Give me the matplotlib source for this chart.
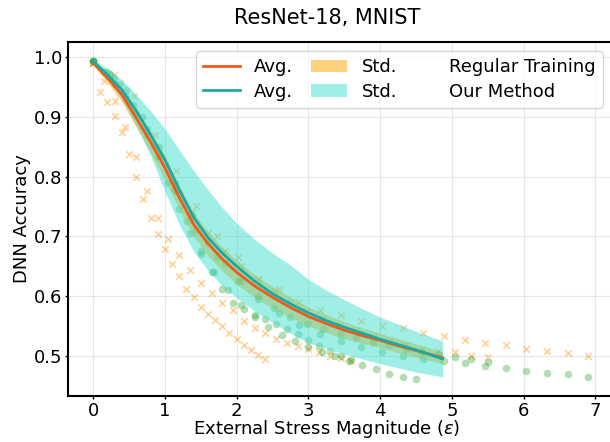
import numpy as np
from matplotlib import pyplot as plt
from matplotlib.lines import Line2D
from matplotlib.patches import Patch

# averaged curves
avg_eps = [0, 0.2, 0.4, 0.6, 0.8, 1.0, 1.2, 1.4, 1.6, 1.8, 2.0, 2.25, 2.5, 2.75,
           3.0, 3.25, 3.5, 3.75, 4.0, 4.25, 4.5, 4.87]
reg_avg = [0.99, 0.965, 0.937, 0.898, 0.858, 0.815, 0.765, 0.72, 0.688, 0.662, 0.64, 0.617,
           0.598, 0.581, 0.566, 0.554, 0.543, 0.534, 0.526, 0.517, 0.509, 0.497]
reg_std = [0.004, 0.008, 0.012, 0.015, 0.018, 0.02, 0.02, 0.02, 0.02, 0.02, 0.02, 0.019,
           0.018, 0.017, 0.016, 0.015, 0.014, 0.013, 0.012, 0.012, 0.011, 0.01]
our_avg = [0.993, 0.97, 0.945, 0.91, 0.87, 0.828, 0.778, 0.732, 0.698, 0.672, 0.65, 0.625,
           0.604, 0.587, 0.572, 0.559, 0.548, 0.538, 0.528, 0.519, 0.51, 0.495]
our_upper = [0.997, 0.98, 0.962, 0.937, 0.91, 0.88, 0.845, 0.81, 0.778, 0.748, 0.722, 0.695,
             0.672, 0.652, 0.628, 0.61, 0.594, 0.579, 0.565, 0.553, 0.541, 0.525]
our_lower = [0.99, 0.962, 0.93, 0.885, 0.835, 0.775, 0.72, 0.675, 0.643, 0.617, 0.597, 0.575,
             0.556, 0.538, 0.522, 0.512, 0.503, 0.495, 0.487, 0.48, 0.473, 0.465]

# individual runs, regular training (x markers); each run has 25 evenly spaced eps
reg_max_eps = [2.4, 3.6, 5.5, 6.9]
reg_runs = [
    [0.99, 0.942, 0.924, 0.902, 0.874, 0.838, 0.80, 0.762, 0.731, 0.704, 0.678, 0.653, 0.634,
     0.612, 0.598, 0.582, 0.570, 0.560, 0.550, 0.539, 0.528, 0.518, 0.510, 0.502, 0.495],
    [0.99, 0.96, 0.926, 0.883, 0.832, 0.776, 0.731, 0.696, 0.668, 0.643, 0.622, 0.605, 0.589,
     0.576, 0.559, 0.547, 0.538, 0.529, 0.522, 0.517, 0.512, 0.506, 0.50, 0.496, 0.492],
    [0.99, 0.968, 0.93, 0.885, 0.835, 0.785, 0.74, 0.705, 0.675, 0.65, 0.628, 0.608, 0.59,
     0.575, 0.562, 0.551, 0.541, 0.532, 0.525, 0.518, 0.512, 0.508, 0.506, 0.50, 0.498],
    [0.99, 0.97, 0.935, 0.87, 0.81, 0.75, 0.70, 0.665, 0.627, 0.612, 0.591, 0.577, 0.569,
     0.559, 0.55, 0.546, 0.539, 0.533, 0.526, 0.522, 0.518, 0.512, 0.508, 0.505, 0.50],
]

# individual runs, our method (dots)
our_max_eps = [3.6, 4.5, 5.5, 6.9]
our_runs = [
    [0.993, 0.975, 0.955, 0.935, 0.905, 0.87, 0.835, 0.79, 0.745, 0.705, 0.67, 0.64, 0.612,
     0.589, 0.578, 0.569, 0.561, 0.553, 0.545, 0.537, 0.527, 0.516, 0.508, 0.50, 0.494],
    [0.993, 0.975, 0.955, 0.92, 0.88, 0.835, 0.78, 0.725, 0.675, 0.64, 0.61, 0.585, 0.565,
     0.548, 0.535, 0.525, 0.515, 0.507, 0.50, 0.492, 0.485, 0.478, 0.47, 0.465, 0.461],
    [0.993, 0.972, 0.945, 0.90, 0.85, 0.79, 0.735, 0.69, 0.655, 0.625, 0.60, 0.58, 0.565,
     0.553, 0.545, 0.537, 0.53, 0.524, 0.518, 0.512, 0.507, 0.503, 0.499, 0.495, 0.49],
    [0.993, 0.965, 0.91, 0.85, 0.775, 0.71, 0.665, 0.625, 0.595, 0.572, 0.552, 0.537, 0.525,
     0.515, 0.507, 0.50, 0.495, 0.492, 0.489, 0.484, 0.479, 0.475, 0.472, 0.469, 0.464],
]

REG_LINE = "#ef5a1c"
OUR_LINE = "#1fa89f"
REG_FILL = "orange"
OUR_FILL = "turquoise"

fig = plt.figure(figsize=(6.1, 4.42), dpi=100)
ax = fig.add_axes([68 / 610, 1 - 396 / 442, 0.9, 354 / 442])

ax.grid(True, color="#e6e6e6", linewidth=0.8, zorder=0)
ax.set_axisbelow(True)

eps = np.array(avg_eps)
reg_avg_a, reg_std_a = np.array(reg_avg), np.array(reg_std)

# runs first, then the bands over them, lines on top
for max_eps, run in zip(reg_max_eps, reg_runs):
    xs = np.linspace(0, max_eps, len(run))
    ax.scatter(xs, run, marker="x", s=22, color="darkorange", alpha=0.4,
               linewidths=1.2, zorder=1.5)
for max_eps, run in zip(our_max_eps, our_runs):
    xs = np.linspace(0, max_eps, len(run))
    ax.scatter(xs, run, marker="o", s=30, color="tab:green", alpha=0.35,
               linewidths=0, zorder=1.5)

ax.fill_between(eps, reg_avg_a - reg_std_a, reg_avg_a + reg_std_a,
                color=REG_FILL, alpha=0.5, linewidth=0, zorder=1.8)
ax.fill_between(eps, our_lower, our_upper, color=OUR_FILL, alpha=0.5, linewidth=0, zorder=2)

ax.plot(eps, reg_avg, color=REG_LINE, linewidth=2, zorder=4)
ax.plot(eps, our_avg, color=OUR_LINE, linewidth=2, zorder=4)

ax.set_xlim(-0.35, 7.3)
ax.set_ylim(0.433, 1.025)
ax.set_xticks(range(8))
ax.set_yticks([0.5, 0.6, 0.7, 0.8, 0.9, 1.0])
ax.set_yticklabels(["0.5", "0.6", "0.7", "0.8", "0.9", "1.0"])
ax.tick_params(labelsize=13, length=2, width=1, pad=2)
for sp in ax.spines.values():
    sp.set_linewidth(1.5)

ax.set_ylabel("DNN Accuracy", fontsize=13, labelpad=2)
fig.text(327 / 610, 1 - 429 / 442, r"External Stress Magnitude ($\varepsilon$)",
         ha="center", va="center", fontsize=13)
fig.text(327 / 610, 1 - 18 / 442, "ResNet-18, MNIST", ha="center", va="center", fontsize=15)

handles = [
    Line2D([], [], color=REG_LINE, linewidth=2),
    Line2D([], [], color=OUR_LINE, linewidth=2),
    Patch(facecolor=REG_FILL, alpha=0.5, linewidth=0),
    Patch(facecolor=OUR_FILL, alpha=0.5, linewidth=0),
    Line2D([], [], linestyle="none"),
    Line2D([], [], linestyle="none"),
]
labels = ["Avg.", "Avg.", "Std.", "Std.", "Regular Training", "Our Method"]
leg = ax.legend(handles, labels, ncol=3, fontsize=13, loc="upper right",
                bbox_to_anchor=(603 / 610, 1 - 51 / 442), bbox_transform=fig.transFigure,
                handlelength=2.0, columnspacing=1.0, labelspacing=0.35, borderaxespad=0)
# the text-only column needs a narrower blank handle
try:
    cols = leg._legend_handle_box.get_children()
    for item in cols[2].get_children():
        item.get_children()[0].width = 14
except Exception:
    pass

fig.savefig("out.png", dpi=100)
